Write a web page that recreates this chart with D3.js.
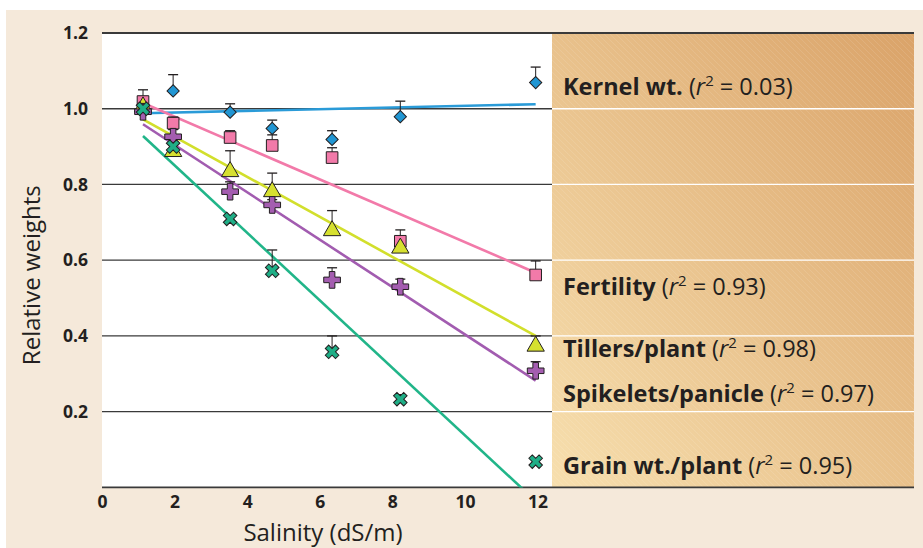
<!DOCTYPE html>
<html>
<head>
<meta charset="utf-8">
<script src="https://cdn.jsdelivr.net/npm/d3@7/dist/d3.min.js"></script>
<style>
  html, body { margin: 0; padding: 0; background: #ffffff; }
  svg { display: block; }
  text { font-family: "Open Sans", "Noto Sans", sans-serif; }
</style>
</head>
<body>
<svg id="chart" width="923" height="548"></svg>
<script>
// ---------- DATA ----------
const categories = ["Kernel wt.", "Fertility", "Tillers/plant", "Spikelets/panicle", "Grain wt./plant"];
const rSquared = ["0.03", "0.93", "0.98", "0.97", "0.95"];
const salinity = [1.13, 1.96, 3.53, 4.69, 6.34, 8.22, 11.95];

const kernelWt    = [1.000, 1.047, 0.991, 0.948, 0.919, 0.979, 1.069];
const kernelErr   = [1.050, 1.090, 1.013, 0.970, 0.942, 1.020, 1.110];
const fertility   = [1.019, 0.962, 0.924, 0.903, 0.871, 0.650, 0.561];
const fertilityErr= [1.032, 0.978, 0.942, 0.931, 0.897, 0.680, 0.598];
const tillers     = [1.005, 0.887, 0.834, 0.781, 0.678, 0.632, 0.373];
const tillersErr  = [null,  null,  0.889, 0.830, 0.731, null,  0.400];
const spikelets   = [0.992, 0.926, 0.781, 0.746, 0.548, 0.530, 0.308];
const spikeletsErr= [null,  0.945, 0.807, 0.760, 0.580, 0.550, 0.332];
const grainWt     = [1.000, 0.900, 0.709, 0.572, 0.358, 0.233, 0.068];
const grainErr    = [null,  null,  null,  0.627, 0.400, 0.245, null];

// regression lines: value at first and last salinity level
const fitX     = [1.13, 11.95];
const fitStart = [0.988, 1.015, 0.972, 0.959, 0.928];
const fitEnd   = [1.012, 0.567, 0.400, 0.282, -0.036];

const xTicks = [0, 2, 4, 6, 8, 10, 12];
const yTicks = [0.2, 0.4, 0.6, 0.8, 1.0, 1.2];

// ---------- LAYOUT / STYLE ----------
const colors = ["#2196d3", "#f27aa9", "#d6e030", "#a45db0", "#1fae86"];
const lineColors = ["#2a9bd8", "#f27aa9", "#d2df2c", "#a25cb0", "#21b589"];
const labelY = [1.036, 0.508, 0.345, 0.226, 0.035];

const plot = { left: 102, right: 552, top: 33, bottom: 487.4 };
const panelRight = 914;

const svg = d3.select("#chart");
const x = d3.scaleLinear().domain([0, 12.4]).range([plot.left, plot.right]);
const y = d3.scaleLinear().domain([0, 1.2]).range([plot.bottom, plot.top]);

// background
svg.append("rect").attr("x", 6).attr("y", 10).attr("width", 917).attr("height", 538).attr("fill", "#f5e9da");

// defs: gradient + hatch
const defs = svg.append("defs");
const grad = defs.append("linearGradient").attr("id", "panelGrad")
  .attr("x1", "0%").attr("y1", "100%").attr("x2", "100%").attr("y2", "0%");
grad.append("stop").attr("offset", "0%").attr("stop-color", "#f7dfae");
grad.append("stop").attr("offset", "100%").attr("stop-color", "#daa369");
const pat = defs.append("pattern").attr("id", "hatch").attr("patternUnits", "userSpaceOnUse")
  .attr("width", 6).attr("height", 6);
pat.append("path").attr("d", "M0,0 L6,6 M-1,5 L1,7 M5,-1 L7,1")
  .attr("stroke", "#ffffff").attr("stroke-opacity", 0.1).attr("stroke-width", 1);
defs.append("clipPath").attr("id", "plotClip").append("rect")
  .attr("x", plot.left).attr("y", plot.top).attr("width", plot.right - plot.left).attr("height", plot.bottom - plot.top);

// plot area
svg.append("rect").attr("x", plot.left).attr("y", plot.top)
  .attr("width", plot.right - plot.left).attr("height", plot.bottom - plot.top).attr("fill", "#ffffff");
// label panel
svg.append("rect").attr("x", plot.right).attr("y", plot.top)
  .attr("width", panelRight - plot.right).attr("height", plot.bottom - plot.top).attr("fill", "url(#panelGrad)");
svg.append("rect").attr("x", plot.right).attr("y", plot.top)
  .attr("width", panelRight - plot.right).attr("height", plot.bottom - plot.top).attr("fill", "url(#hatch)");

// gridlines
const grid = svg.append("g");
yTicks.filter(d => d < 1.2).forEach(d => {
  grid.append("line").attr("x1", plot.left).attr("x2", plot.right)
    .attr("y1", y(d)).attr("y2", y(d)).attr("stroke", "#3a3a3a").attr("stroke-width", 1.3);
  grid.append("line").attr("x1", plot.right).attr("x2", panelRight)
    .attr("y1", y(d)).attr("y2", y(d)).attr("stroke", "#ffffff").attr("stroke-width", 1.3);
});
[0, 1.2].forEach(d => {
  grid.append("line").attr("x1", plot.left).attr("x2", panelRight)
    .attr("y1", y(d)).attr("y2", y(d)).attr("stroke", "#3a3a3a").attr("stroke-width", 1.8);
});

// axes (labels only)
const yAxis = d3.axisLeft(y).tickValues(yTicks).tickFormat(d3.format(".1f")).tickSize(0).tickPadding(14);
const yg = svg.append("g").attr("transform", `translate(${plot.left},0)`).call(yAxis);
yg.select(".domain").remove();
yg.attr("font-family", null).attr("font-size", null);
yg.selectAll("text").attr("font-size", 17.5).attr("font-weight", 700).attr("fill", "#231f20");

const xAxis = d3.axisBottom(x).tickValues(xTicks).tickFormat(d3.format("d")).tickSize(0).tickPadding(8);
const xg = svg.append("g").attr("transform", `translate(0,${plot.bottom})`).call(xAxis);
xg.select(".domain").remove();
xg.attr("font-family", null).attr("font-size", null);
xg.selectAll("text").attr("font-size", 17.5).attr("font-weight", 700).attr("fill", "#231f20");

// axis titles
svg.append("text").attr("transform", `translate(40,${(plot.top + plot.bottom) / 2 + 15}) rotate(-90)`)
  .attr("text-anchor", "middle").attr("font-size", 24).attr("fill", "#231f20").text("Relative weights");
svg.append("text").attr("x", 323).attr("y", 541).attr("text-anchor", "middle")
  .attr("font-size", 24).attr("fill", "#231f20").text("Salinity (dS/m)");

// regression lines
const lineGen = d3.line().x(d => x(d[0])).y(d => y(d[1]));
const lines = svg.append("g").attr("clip-path", "url(#plotClip)");
categories.forEach((c, i) => {
  lines.append("path")
    .attr("d", lineGen([[fitX[0], fitStart[i]], [fitX[1], fitEnd[i]]]))
    .attr("stroke", lineColors[i]).attr("stroke-width", 2.6).attr("fill", "none");
});

// error bars + markers
const series = [
  { vals: kernelWt, err: kernelErr },
  { vals: fertility, err: fertilityErr },
  { vals: tillers, err: tillersErr },
  { vals: spikelets, err: spikeletsErr },
  { vals: grainWt, err: grainErr }
];

const errG = svg.append("g");
series.forEach(s => {
  s.err.forEach((e, j) => {
    if (e == null) return;
    const xx = x(salinity[j]);
    errG.append("line").attr("x1", xx).attr("x2", xx).attr("y1", y(s.vals[j])).attr("y2", y(e))
      .attr("stroke", "#231f20").attr("stroke-width", 1);
    errG.append("line").attr("x1", xx - 5).attr("x2", xx + 5).attr("y1", y(e)).attr("y2", y(e))
      .attr("stroke", "#231f20").attr("stroke-width", 1.3);
  });
});

const symbols = [
  { type: d3.symbolSquare, size: 75, rot: 45 },
  { type: d3.symbolSquare, size: 135, rot: 0 },
  { type: d3.symbolTriangle, size: 130, rot: 0 },
  { type: d3.symbolCross, size: 155, rot: 0 },
  { type: d3.symbolCross, size: 115, rot: 45 }
];
const mk = svg.append("g");
series.forEach((s, i) => {
  const sym = d3.symbol().type(symbols[i].type).size(symbols[i].size);
  s.vals.forEach((v, j) => {
    mk.append("path").attr("d", sym())
      .attr("transform", `translate(${x(salinity[j])},${y(v)}) rotate(${symbols[i].rot})`)
      .attr("fill", colors[i]).attr("stroke", "#231f20").attr("stroke-width", 1);
  });
});

// series labels in panel
const lab = svg.append("g");
categories.forEach((c, i) => {
  const t = lab.append("text").attr("x", 563).attr("y", y(labelY[i]))
    .attr("font-size", 23.5).attr("fill", "#231f20");
  t.append("tspan").attr("font-weight", 700).text(c + " ");
  t.append("tspan").text("(");
  t.append("tspan").attr("font-style", "italic").text("r");
  t.append("tspan").attr("font-size", 15).attr("dy", -9).text("2");
  t.append("tspan").attr("dy", 9).text(" = " + rSquared[i] + ")");
});
</script>
</body>
</html>
